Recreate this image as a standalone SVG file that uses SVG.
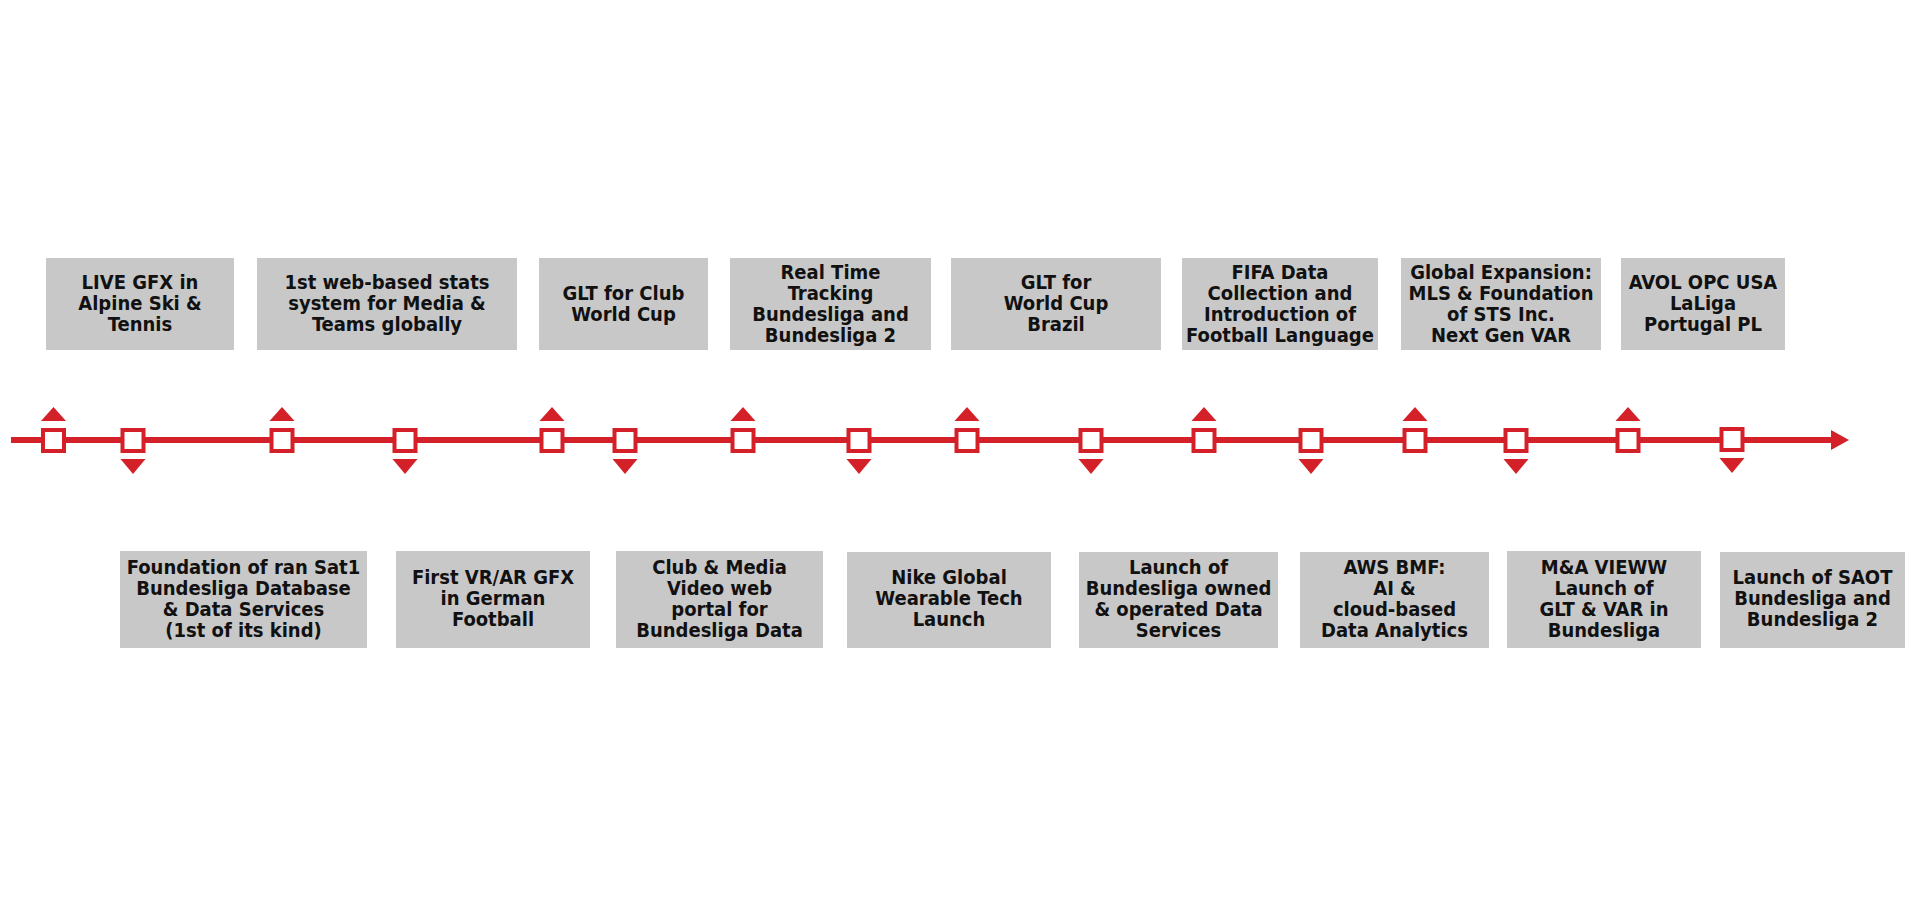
<svg xmlns="http://www.w3.org/2000/svg" width="1920" height="900" viewBox="0 0 1920 900">
<style>
.box{fill:#C8C8C8;}
.t{font-family:"DejaVu Sans Condensed","DejaVu Sans","Liberation Sans",sans-serif;font-stretch:condensed;font-weight:bold;font-size:20px;fill:#111;text-anchor:middle;}
.line{stroke:#D42129;stroke-width:6;fill:none;}
.sq{fill:#fff;stroke:#D42129;stroke-width:4;}
.tri{fill:#D42129;}
</style>
<rect width="1920" height="900" fill="#fff"/>
<g id="connectors">
<line class="line" x1="11" y1="440" x2="1833" y2="440"/>
<polygon class="tri" points="1831,430 1849,440 1831,450"/>
</g>
<g id="markers">
<g id="m1"><polygon class="tri" points="41,421 66,421 53.5,407"/><rect class="sq" x="43" y="430" width="21" height="21"/></g>
<g id="m2"><polygon class="tri" points="120.5,459 145.5,459 133,474"/><rect class="sq" x="122.5" y="430" width="21" height="21"/></g>
<g id="m3"><polygon class="tri" points="269.5,421 294.5,421 282,407"/><rect class="sq" x="271.5" y="430" width="21" height="21"/></g>
<g id="m4"><polygon class="tri" points="392.5,459 417.5,459 405,474"/><rect class="sq" x="394.5" y="430" width="21" height="21"/></g>
<g id="m5"><polygon class="tri" points="539.5,421 564.5,421 552,407"/><rect class="sq" x="541.5" y="430" width="21" height="21"/></g>
<g id="m6"><polygon class="tri" points="612.5,459 637.5,459 625,474"/><rect class="sq" x="614.5" y="430" width="21" height="21"/></g>
<g id="m7"><polygon class="tri" points="730.5,421 755.5,421 743,407"/><rect class="sq" x="732.5" y="430" width="21" height="21"/></g>
<g id="m8"><polygon class="tri" points="846.5,459 871.5,459 859,474"/><rect class="sq" x="848.5" y="430" width="21" height="21"/></g>
<g id="m9"><polygon class="tri" points="954.5,421 979.5,421 967,407"/><rect class="sq" x="956.5" y="430" width="21" height="21"/></g>
<g id="m10"><polygon class="tri" points="1078.5,459 1103.5,459 1091,474"/><rect class="sq" x="1080.5" y="430" width="21" height="21"/></g>
<g id="m11"><polygon class="tri" points="1191.5,421 1216.5,421 1204,407"/><rect class="sq" x="1193.5" y="430" width="21" height="21"/></g>
<g id="m12"><polygon class="tri" points="1298.5,459 1323.5,459 1311,474"/><rect class="sq" x="1300.5" y="430" width="21" height="21"/></g>
<g id="m13"><polygon class="tri" points="1402.5,421 1427.5,421 1415,407"/><rect class="sq" x="1404.5" y="430" width="21" height="21"/></g>
<g id="m14"><polygon class="tri" points="1503.5,459 1528.5,459 1516,474"/><rect class="sq" x="1505.5" y="430" width="21" height="21"/></g>
<g id="m15"><polygon class="tri" points="1615.5,421 1640.5,421 1628,407"/><rect class="sq" x="1617.5" y="430" width="21" height="21"/></g>
<g id="m16"><polygon class="tri" points="1719.5,458 1744.5,458 1732,473"/><rect class="sq" x="1721.5" y="429" width="21" height="21"/></g>
</g>
<g id="top1"><rect class="box" x="46" y="258" width="188" height="92"/>
<text class="t" x="140" y="289">LIVE GFX in</text><text class="t" x="140" y="310">Alpine Ski &amp;</text><text class="t" x="140" y="331">Tennis</text></g>
<g id="top2"><rect class="box" x="257" y="258" width="260" height="92"/>
<text class="t" x="387" y="289">1st web-based stats</text><text class="t" x="387" y="310">system for Media &amp;</text><text class="t" x="387" y="331">Teams globally</text></g>
<g id="top3"><rect class="box" x="539" y="258" width="169" height="92"/>
<text class="t" x="623.5" y="300">GLT for Club</text><text class="t" x="623.5" y="321">World Cup</text></g>
<g id="top4"><rect class="box" x="730" y="258" width="201" height="92"/>
<text class="t" x="830.5" y="279">Real Time</text><text class="t" x="830.5" y="300">Tracking</text><text class="t" x="830.5" y="321">Bundesliga and</text><text class="t" x="830.5" y="342">Bundesliga 2</text></g>
<g id="top5"><rect class="box" x="951" y="258" width="210" height="92"/>
<text class="t" x="1056" y="289">GLT for</text><text class="t" x="1056" y="310">World Cup</text><text class="t" x="1056" y="331">Brazil</text></g>
<g id="top6"><rect class="box" x="1182" y="258" width="196" height="92"/>
<text class="t" x="1280" y="279">FIFA Data</text><text class="t" x="1280" y="300">Collection and</text><text class="t" x="1280" y="321">Introduction of</text><text class="t" x="1280" y="342">Football Language</text></g>
<g id="top7"><rect class="box" x="1401" y="258" width="200" height="92"/>
<text class="t" x="1501" y="279">Global Expansion:</text><text class="t" x="1501" y="300">MLS &amp; Foundation</text><text class="t" x="1501" y="321">of STS Inc.</text><text class="t" x="1501" y="342">Next Gen VAR</text></g>
<g id="top8"><rect class="box" x="1621" y="258" width="164" height="92"/>
<text class="t" x="1703" y="289">AVOL OPC USA</text><text class="t" x="1703" y="310">LaLiga</text><text class="t" x="1703" y="331">Portugal PL</text></g>
<g id="bot1"><rect class="box" x="120" y="551" width="247" height="97"/>
<text class="t" x="243.5" y="574">Foundation of ran Sat1</text><text class="t" x="243.5" y="595">Bundesliga Database</text><text class="t" x="243.5" y="616">&amp; Data Services</text><text class="t" x="243.5" y="637">(1st of its kind)</text></g>
<g id="bot2"><rect class="box" x="396" y="551" width="194" height="97"/>
<text class="t" x="493" y="584">First VR/AR GFX</text><text class="t" x="493" y="605">in German</text><text class="t" x="493" y="626">Football</text></g>
<g id="bot3"><rect class="box" x="616" y="551" width="207" height="97"/>
<text class="t" x="719.5" y="574">Club &amp; Media</text><text class="t" x="719.5" y="595">Video web</text><text class="t" x="719.5" y="616">portal for</text><text class="t" x="719.5" y="637">Bundesliga Data</text></g>
<g id="bot4"><rect class="box" x="847" y="552" width="204" height="96"/>
<text class="t" x="949" y="584">Nike Global</text><text class="t" x="949" y="605">Wearable Tech</text><text class="t" x="949" y="626">Launch</text></g>
<g id="bot5"><rect class="box" x="1079" y="552" width="199" height="96"/>
<text class="t" x="1178.5" y="574">Launch of</text><text class="t" x="1178.5" y="595">Bundesliga owned</text><text class="t" x="1178.5" y="616">&amp; operated Data</text><text class="t" x="1178.5" y="637">Services</text></g>
<g id="bot6"><rect class="box" x="1300" y="552" width="189" height="96"/>
<text class="t" x="1394.5" y="574">AWS BMF:</text><text class="t" x="1394.5" y="595">AI &amp;</text><text class="t" x="1394.5" y="616">cloud-based</text><text class="t" x="1394.5" y="637">Data Analytics</text></g>
<g id="bot7"><rect class="box" x="1507" y="551" width="194" height="97"/>
<text class="t" x="1604" y="574">M&amp;A VIEWW</text><text class="t" x="1604" y="595">Launch of</text><text class="t" x="1604" y="616">GLT &amp; VAR in</text><text class="t" x="1604" y="637">Bundesliga</text></g>
<g id="bot8"><rect class="box" x="1720" y="552" width="185" height="96"/>
<text class="t" x="1812.5" y="584">Launch of SAOT</text><text class="t" x="1812.5" y="605">Bundesliga and</text><text class="t" x="1812.5" y="626">Bundesliga 2</text></g>
</svg>
